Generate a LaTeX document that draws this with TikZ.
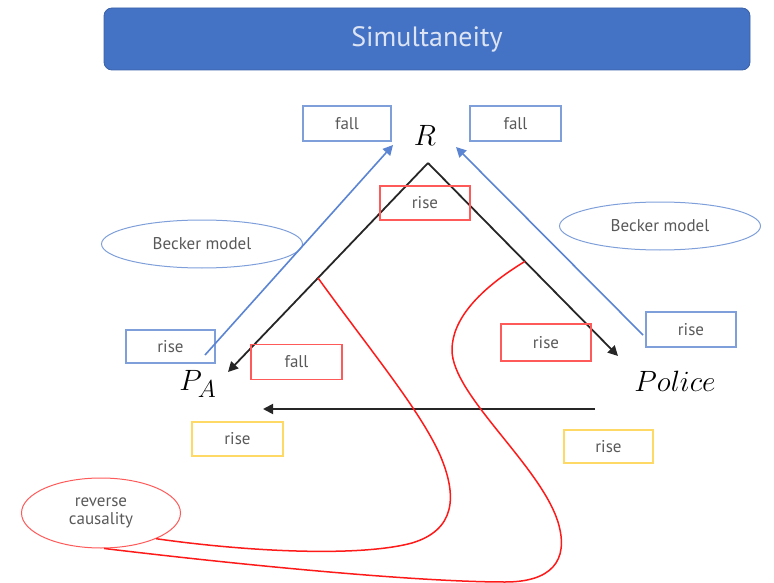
\documentclass[tikz,border=0pt]{standalone}
\usepackage{fontspec}
\setmainfont{PT Sans}
\usetikzlibrary{arrows.meta,shapes.geometric,calc}
\definecolor{titleblue}{HTML}{4472C4}
\definecolor{titleedge}{HTML}{3A62A8}
\definecolor{titletext}{HTML}{DCE4F4}
\definecolor{boxblue}{HTML}{7F9FDA}
\definecolor{lineblue}{HTML}{5B84D2}
\definecolor{boxred}{HTML}{FF5A5A}
\definecolor{curvered}{HTML}{FF1A1A}
\definecolor{boxyellow}{HTML}{FFD966}
\definecolor{txtgray}{HTML}{595959}
\tikzset{
  lbl/.style={draw, line width=1.2pt, inner sep=0pt, text=txtgray,
    font=\fontsize{17}{20}\selectfont},
  bluebox/.style={lbl, draw=boxblue},
  redbox/.style={lbl, draw=boxred},
  yellowbox/.style={lbl, draw=boxyellow},
  oval/.style={ellipse, draw, line width=1pt, inner sep=0pt, text=txtgray,
    font=\fontsize{17}{19}\selectfont, align=center},
  var/.style={inner sep=0pt, font=\fontsize{24.88}{27}\selectfont, scale=1.18},
  blackarrow/.style={line width=1.8pt, draw=black!85, -{Triangle[length=10pt,width=10pt]}},
  bluearrow/.style={line width=1.6pt, draw=lineblue, -{Triangle[length=10pt,width=10pt]}},
  redcurve/.style={line width=1.5pt, draw=curvered},
}
\begin{document}
\begin{tikzpicture}[x=1pt,y=-1pt]
\useasboundingbox (0,0) rectangle (774,583);

% title
\node[draw=titleedge, fill=titleblue, rounded corners=8pt, line width=0.8pt,
  minimum width=646pt, minimum height=62pt, inner sep=0pt, text=titletext,
  font=\fontsize{28}{32}\selectfont] (title) at (427,39) {Simultaneity};

% variables
\node[var] (R) at (425,135) {$R$};
\node[var] (PA) at (198,384) {$P_A$};
\node[var] (Police) at (675,381) {$Police$};

% connector end points
\coordinate (apex) at (428,163);
\coordinate (tipL) at (228,372);
\coordinate (tipR) at (618,356);
\coordinate (bLs) at (205,355);
\coordinate (bLe) at (393,145);
\coordinate (bRs) at (643,335);
\coordinate (bRe) at (456,147);
\coordinate (hs) at (595,409);
\coordinate (he) at (263,409);

% boxes
\node[bluebox, minimum width=88pt, minimum height=35pt] (fallL) at (347,123.5) {fall};
\node[bluebox, minimum width=91pt, minimum height=35pt] (fallR) at (515.5,123.5) {fall};
\node[bluebox, minimum width=89pt, minimum height=33pt] (riseBL) at (170.5,346.5) {rise};
\node[bluebox, minimum width=90pt, minimum height=35pt] (riseBR) at (691,329.5) {rise};
\node[yellowbox, minimum width=91pt, minimum height=34pt] (riseYL) at (237.5,439) {rise};
\node[yellowbox, minimum width=89pt, minimum height=33pt] (riseYR) at (608.5,446.5) {rise};

% ellipses
\node[oval, draw=boxblue, minimum width=201pt, minimum height=48pt] (beckerL) at (202,244) {Becker model};
\node[oval, draw=boxblue, minimum width=201pt, minimum height=48pt] (beckerR) at (660,226) {Becker model};
\node[oval, draw=boxred, minimum width=159pt, minimum height=70pt] (rc) at (101,513) {reverse\\[-1pt]causality};

% black triangle and horizontal arrow
\draw[blackarrow] (apex) -- (tipL);
\draw[blackarrow] (apex) -- (tipR);
\draw[blackarrow] (hs) -- (he);

% blue arrows
\draw[bluearrow] (bLs) -- (bLe);
\draw[bluearrow] (bRs) -- (bRe);

% red curves
\coordinate (c1s) at ($(apex)!0.55!(tipL)$);
\coordinate (c2s) at ($(apex)!0.51!(tipR)$);
\draw[redcurve] (c1s) .. controls (370,350) and (420,410) .. (440,455)
  .. controls (458,497) and (455,530) .. (412,543)
  .. controls (360,557) and (250,552) .. (rc.-25);
\draw[redcurve] (c2s) .. controls (478,290) and (452,320) .. (452,350)
  .. controls (452,395) and (540,465) .. (558,522)
  .. controls (570,562) and (550,582) .. (505,582)
  .. controls (420,582) and (250,566) .. (rc.-85);

% red boxes (drawn over lines)
\node[redbox, minimum width=90pt, minimum height=34pt] (riseTop) at (425,203) {rise};
\node[redbox, minimum width=91pt, minimum height=35pt] (fallM) at (296.5,362) {fall};
\node[redbox, minimum width=90pt, minimum height=37pt] (riseRR) at (546,342.5) {rise};
\end{tikzpicture}
\end{document}
